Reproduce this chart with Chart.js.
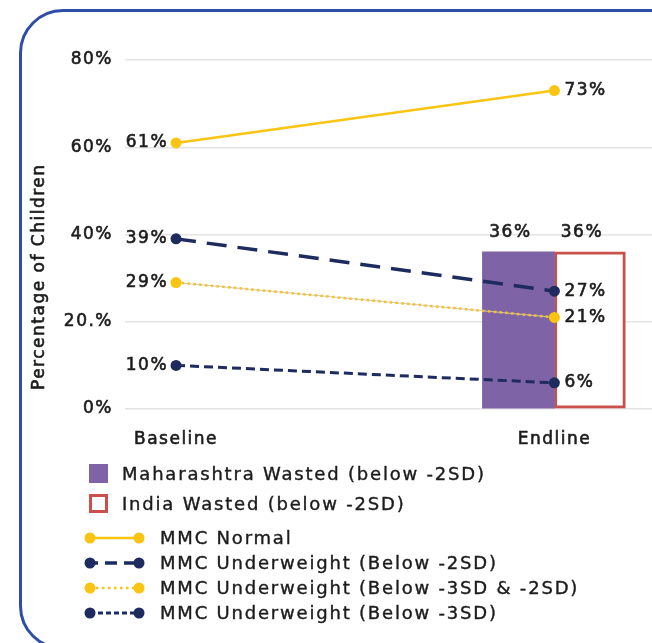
<!DOCTYPE html>
<html>
<head>
<meta charset="utf-8">
<script src="https://cdn.jsdelivr.net/npm/chart.js@4.4.1/dist/chart.umd.min.js"></script>
<style>
html,body{margin:0;padding:0;background:#fff;width:652px;height:643px;overflow:hidden;font-family:"DejaVu Sans",sans-serif;}
#frame{position:absolute;left:19px;top:9px;width:720px;height:641px;border:3px solid #2E4DA7;border-radius:44px;box-sizing:border-box;}
#chart{position:absolute;left:0;top:0;}
#legend{position:absolute;left:0;top:0;width:652px;height:643px;pointer-events:none;}
.row{position:absolute;height:24px;line-height:24px;font-size:18px;letter-spacing:1.8px;color:#1c1c1c;white-space:nowrap;-webkit-text-stroke:0.4px #1c1c1c;}
.mk{position:absolute;}
</style>
</head>
<body>
<div id="frame"></div>
<canvas id="chart" width="658" height="455"></canvas>
<div id="legend"></div>
<script>
// ---- data ----
const categories = ['Baseline', 'Endline'];
const seriesNames = [
  'Maharashtra Wasted (below -2SD)',
  'India Wasted (below -2SD)',
  'MMC Normal',
  'MMC Underweight (Below -2SD)',
  'MMC Underweight (Below -3SD & -2SD)',
  'MMC Underweight (Below -3SD)'
];
const maharashtraWasted = [null, 36];
const indiaWasted = [null, 36];
const mmcNormal = [61, 73];
const mmcUnder2SD = [39, 27];
const mmcUnder3to2SD = [29, 21];
const mmcUnder3SD = [10, 6];
const yTickValues = [0, 20, 40, 60, 80];
const yTickLabels = ['0%', '20.%', '40%', '60%', '80%'];
const yTitle = 'Percentage of Children';

// ---- styles ----
const YELLOW = '#F9C412';
const NAVY = '#1D2B5E';
const PURPLE = '#7E64A6';
const RED = '#C9504B';
const TEXT = '#1c1c1c';
const FONT = '"DejaVu Sans", sans-serif';

function pts(arr) {
  const out = [];
  arr.forEach((v, i) => { if (v !== null) out.push({x: i, y: v}); });
  return out;
}

const lineStyles = [
  {color: YELLOW, dash: [], width: 2.5},
  {color: NAVY, dash: [20, 11], width: 3.5},
  {color: YELLOW, dash: [2.5, 3.3], width: 2.5},
  {color: NAVY, dash: [9, 5], width: 3}
];
const lineData = [mmcNormal, mmcUnder2SD, mmcUnder3to2SD, mmcUnder3SD];

const datasets = [
  {type: 'bar', label: seriesNames[0], data: pts(maharashtraWasted), backgroundColor: PURPLE,
   borderWidth: 0, barThickness: 72, order: 5},
  {type: 'bar', label: seriesNames[1], data: pts(indiaWasted), backgroundColor: '#ffffff',
   borderColor: RED, borderWidth: 3, borderSkipped: false, barThickness: 71, order: 5}
];
lineData.forEach((arr, k) => {
  const st = lineStyles[k];
  datasets.push({
    type: 'line', label: seriesNames[k + 2], data: pts(arr),
    borderColor: st.color, borderWidth: st.width, borderDash: st.dash,
    pointRadius: 5.5, pointBackgroundColor: st.color, pointBorderWidth: 0,
    tension: 0, fill: false, order: 1, guide: k === 2
  });
});

const letterSpacingPlugin = {
  id: 'ls',
  beforeDraw(chart) { chart.ctx.letterSpacing = '1.5px'; }
};

const guidePlugin = {
  id: 'guide',
  beforeDatasetDraw(chart, args) {
    const ds = chart.data.datasets[args.index];
    if (!ds.guide) return;
    const els = args.meta.data;
    const ctx = chart.ctx;
    ctx.save();
    ctx.strokeStyle = '#C9C6DD';
    ctx.lineWidth = 1;
    ctx.beginPath();
    els.forEach((el, i) => { if (i === 0) ctx.moveTo(el.x, el.y); else ctx.lineTo(el.x, el.y); });
    ctx.stroke();
    ctx.restore();
  }
};

const yTitlePlugin = {
  id: 'yTitle',
  afterDraw(chart) {
    const ctx = chart.ctx;
    const area = chart.chartArea;
    ctx.save();
    ctx.letterSpacing = '1.5px';
    ctx.font = '17px ' + FONT;
    ctx.fillStyle = TEXT;
    ctx.strokeStyle = TEXT;
    ctx.lineWidth = 0.6;
    ctx.translate(40, area.bottom - 19);
    ctx.rotate(-Math.PI / 2);
    ctx.textAlign = 'left';
    ctx.textBaseline = 'middle';
    ctx.fillText(yTitle, 0, 0);
    ctx.strokeText(yTitle, 0, 0);
    ctx.restore();
  }
};

const valueLabels = {
  id: 'valueLabels',
  afterDatasetsDraw(chart) {
    const ctx = chart.ctx;
    ctx.save();
    ctx.letterSpacing = '1.5px';
    ctx.font = '17px ' + FONT;
    ctx.fillStyle = TEXT;
    ctx.strokeStyle = TEXT;
    ctx.lineWidth = 0.6;
    ctx.textBaseline = 'middle';
    const put = (t, x, y) => { ctx.fillText(t, x, y); ctx.strokeText(t, x, y); };
    chart.data.datasets.forEach((ds, di) => {
      const meta = chart.getDatasetMeta(di);
      meta.data.forEach((el, i) => {
        const d = ds.data[i];
        if (!d || d.y === null) return;
        const txt = d.y + '%';
        if (ds.type === 'bar') {
          ctx.textAlign = 'center';
          put(txt, el.x - 8, el.y - 19);
        } else if (d.x === 0) {
          ctx.textAlign = 'right';
          put(txt, el.x - 8, el.y);
        } else {
          ctx.textAlign = 'left';
          put(txt, el.x + 10, el.y);
        }
      });
    });
    ctx.restore();
  }
};

const tickFont = {family: FONT, size: 17};

new Chart(document.getElementById('chart'), {
  type: 'bar',
  data: {datasets},
  options: {
    responsive: false,
    animation: false,
    layout: {padding: {top: 60, left: 0, right: 0, bottom: 2}},
    plugins: {legend: {display: false}, tooltip: {enabled: false}},
    scales: {
      x: {
        type: 'linear', min: -0.1349, max: 1.2593, offset: false,
        grid: {display: false, offset: false}, border: {display: false},
        afterBuildTicks: s => { s.ticks = categories.map((c, i) => ({value: i})); },
        ticks: {callback: v => categories[v], padding: 12, color: TEXT, font: tickFont, maxRotation: 0,
                textStrokeColor: TEXT, textStrokeWidth: 0.6},
        afterFit: s => { s.height = 44; }
      },
      y: {
        min: 0, max: 80,
        grid: {color: '#E4E4E4', lineWidth: 1.5, drawTicks: false}, border: {display: false},
        afterBuildTicks: s => { s.ticks = yTickValues.map(v => ({value: v})); },
        ticks: {callback: (v, i) => yTickLabels[i], padding: 12, color: TEXT, font: tickFont,
                textStrokeColor: TEXT, textStrokeWidth: 0.6},
        title: {display: false, text: yTitle},
        afterFit: s => { s.width = 125; }
      }
    }
  },
  plugins: [letterSpacingPlugin, guidePlugin, valueLabels, yTitlePlugin]
});

// ---- HTML legend ----
const legend = document.getElementById('legend');
const rowCenters = [474, 504, 538, 563, 588, 613];
seriesNames.forEach((name, k) => {
  const cy = rowCenters[k];
  const row = document.createElement('div');
  row.className = 'row';
  row.style.top = (cy - 12) + 'px';
  row.style.left = (k < 2 ? 122 : 160) + 'px';
  row.textContent = name;
  legend.appendChild(row);
  const svgNS = 'http://www.w3.org/2000/svg';
  const svg = document.createElementNS(svgNS, 'svg');
  svg.setAttribute('class', 'mk');
  if (k < 2) {
    svg.setAttribute('width', 20); svg.setAttribute('height', 20);
    svg.style.left = '89px'; svg.style.top = (cy - 10) + 'px';
    const r = document.createElementNS(svgNS, 'rect');
    if (k === 0) {
      r.setAttribute('x', 0); r.setAttribute('y', 0); r.setAttribute('width', 19); r.setAttribute('height', 19);
      r.setAttribute('fill', PURPLE);
    } else {
      r.setAttribute('x', 1.5); r.setAttribute('y', 1.5); r.setAttribute('width', 16); r.setAttribute('height', 16);
      r.setAttribute('fill', '#fff'); r.setAttribute('stroke', RED); r.setAttribute('stroke-width', 3);
    }
    svg.appendChild(r);
  } else {
    const st = lineStyles[k - 2];
    svg.setAttribute('width', 64); svg.setAttribute('height', 14);
    svg.style.left = '82px'; svg.style.top = (cy - 7) + 'px';
    const l = document.createElementNS(svgNS, 'line');
    l.setAttribute('x1', 8); l.setAttribute('y1', 7); l.setAttribute('x2', 57); l.setAttribute('y2', 7);
    l.setAttribute('stroke', st.color); l.setAttribute('stroke-width', st.width);
    if (st.dash.length) {
      const dd = k === 3 ? [12, 7] : (k === 4 ? [2.5, 3.5] : [5, 3]);
      l.setAttribute('stroke-dasharray', dd.join(' '));
      if (k === 3) l.setAttribute('stroke-dashoffset', 4);
    }
    svg.appendChild(l);
    [8, 57].forEach(x => {
      const c = document.createElementNS(svgNS, 'circle');
      c.setAttribute('cx', x); c.setAttribute('cy', 7); c.setAttribute('r', 5.5); c.setAttribute('fill', st.color);
      svg.appendChild(c);
    });
  }
  legend.appendChild(svg);
});
</script>
</body>
</html>
